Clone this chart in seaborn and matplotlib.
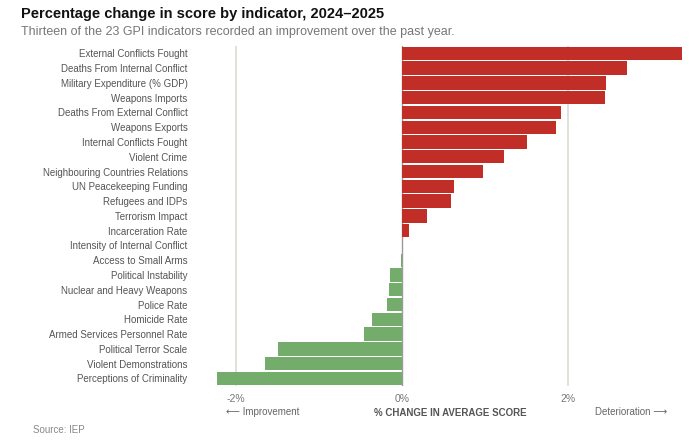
import pandas as pd
import matplotlib
matplotlib.use("Agg")
import matplotlib.pyplot as plt
import seaborn as sns

# indicators, top to bottom, with % change in average score (2024-2025)
indicators = [
    "External Conflicts Fought", "Deaths From Internal Conflict",
    "Military Expenditure (% GDP)", "Weapons Imports",
    "Deaths From External Conflict", "Weapons Exports",
    "Internal Conflicts Fought", "Violent Crime",
    "Neighbouring Countries Relations", "UN Peacekeeping Funding",
    "Refugees and IDPs", "Terrorism Impact", "Incarceration Rate",
    "Intensity of Internal Conflict", "Access to Small Arms",
    "Political Instability", "Nuclear and Heavy Weapons", "Police Rate",
    "Homicide Rate", "Armed Services Personnel Rate",
    "Political Terror Scale", "Violent Demonstrations",
    "Perceptions of Criminality",
]
changes = [
    3.37, 2.71, 2.46, 2.44, 1.92, 1.86, 1.50, 1.23, 0.97, 0.62, 0.59,
    0.30, 0.08, 0.0, -0.01, -0.15, -0.16, -0.18, -0.36, -0.46, -1.49,
    -1.65, -2.23,
]
tick_vals = [-2, 0, 2]
tick_labels = ["-2%", "0%", "2%"]

df = pd.DataFrame({"indicator": indicators, "change": changes})
df["direction"] = ["Deterioration" if c > 0 else "Improvement" for c in df["change"]]

RED = "#c02e27"
GREEN = "#74ac6b"

sns.set_theme(style="white")
plt.rcParams["font.family"] = ["Liberation Sans", "DejaVu Sans"]

fig = plt.figure(figsize=(7, 4.42), dpi=100)
ax = fig.add_axes([0.3076, 0.127, 0.670, 0.769])

sns.barplot(data=df, y="indicator", x="change", hue="direction",
            palette={"Deterioration": RED, "Improvement": GREEN},
            order=indicators, width=0.9, legend=False, ax=ax,
            saturation=1, linewidth=0)
for p in ax.patches:
    p.set_zorder(3)

# light reference lines behind the bars
for v in [-2, 2]:
    ax.axvline(v, color="#dcdcd6", lw=1.2, zorder=1)
ax.axvline(0, color="#9a9a9a", lw=1.0, zorder=1)

ax.set_xlim(-2.25, 3.4)
ax.set_xticks(tick_vals)
ax.set_xticklabels(tick_labels, color="#777777", fontsize=7.5)
ax.tick_params(axis="x", length=0, pad=6)
ax.tick_params(axis="y", length=0, pad=20, labelsize=7.0, labelcolor="#555555")
ax.set_xlabel("")
ax.set_ylabel("")
for s in ax.spines.values():
    s.set_visible(False)

fig.text(0.03, 0.968, "Percentage change in score by indicator, 2024\u20132025",
         fontsize=10.5, fontweight="bold", color="#111111", va="center")
fig.text(0.03, 0.928, "Thirteen of the 23 GPI indicators recorded an improvement over the past year.",
         fontsize=9.0, color="#777777", va="center")

fig.text(0.643, 0.066, "% CHANGE IN AVERAGE SCORE", fontsize=7, fontweight="bold",
         color="#555555", ha="center", va="center")
fig.text(0.323, 0.068, "\u27f5 Improvement", fontsize=7, color="#666666",
         ha="left", va="center")
fig.text(0.953, 0.068, "Deterioration \u27f6", fontsize=7, color="#666666",
         ha="right", va="center")
fig.text(0.047, 0.027, "Source: IEP", fontsize=7, color="#888888", va="center")

fig.savefig("out.png", dpi=100)
